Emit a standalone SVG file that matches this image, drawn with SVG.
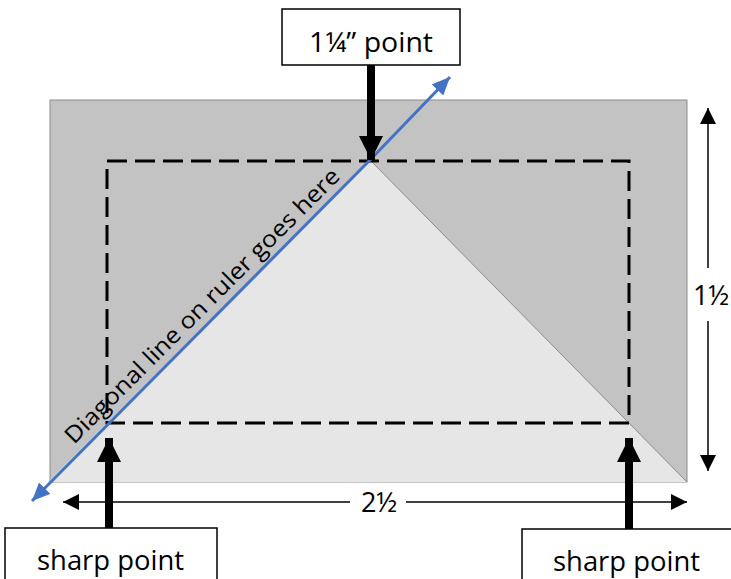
<svg xmlns="http://www.w3.org/2000/svg" width="731" height="579" viewBox="0 0 731 579">
<style>
.lbl{font-family:"Open Sans","Noto Sans",sans-serif;font-size:27px;fill:#000}
.box{fill:#fff;stroke:#000;stroke-width:1.5}
.dim{stroke:#000;stroke-width:1.5;fill:none}
.big{stroke:#000;stroke-width:8;fill:none}
</style>
<defs>
<marker id="ah" markerUnits="userSpaceOnUse" markerWidth="18" markerHeight="16" refX="16" refY="8" orient="auto">
<path d="M0,0 L16,8 L0,16 Z" fill="#000"/>
</marker>
<marker id="bh" markerUnits="userSpaceOnUse" markerWidth="26" markerHeight="26" refX="24" refY="12" orient="auto">
<path d="M0,0 L24,12 L0,24 Z" fill="#000"/>
</marker>
<marker id="blh" markerUnits="userSpaceOnUse" markerWidth="20" markerHeight="16" refX="18" refY="8" orient="auto">
<path d="M0,0 L18,8 L0,16 Z" fill="#4472c4"/>
</marker>
</defs>
<g id="fabric">
<rect x="50" y="100" width="637" height="382" fill="#c3c3c3" stroke="#8c8c8c" stroke-width="1"/>
<polygon points="370,160 50,480 50,482 687,482" fill="#e6e6e6"/>
<line x1="370" y1="160" x2="687" y2="482" stroke="#8c8c8c" stroke-width="1"/>
<rect x="107" y="161" width="522" height="262" fill="none" stroke="#000" stroke-width="3" stroke-dasharray="20 8"/>
</g>
<g id="connectors">
<line x1="370" y1="160" x2="450" y2="77" stroke="#4472c4" stroke-width="3" marker-end="url(#blh)"/>
<line x1="370" y1="160" x2="32" y2="501" stroke="#4472c4" stroke-width="3" marker-end="url(#blh)"/>
<line class="big" x1="371" y1="65" x2="371" y2="160" marker-end="url(#bh)"/>
<line class="big" x1="109" y1="528" x2="109" y2="438" marker-end="url(#bh)"/>
<line class="big" x1="629" y1="529" x2="629" y2="438" marker-end="url(#bh)"/>
<line class="dim" x1="350" y1="502" x2="63" y2="502" marker-end="url(#ah)"/>
<line class="dim" x1="406" y1="502" x2="687" y2="502" marker-end="url(#ah)"/>
<line class="dim" x1="708" y1="268" x2="708" y2="108" marker-end="url(#ah)"/>
<line class="dim" x1="708" y1="321" x2="708" y2="471" marker-end="url(#ah)"/>
</g>
<g id="diag-label">
<text class="lbl" style="font-size:23px" transform="translate(74,445) rotate(-45)" textLength="378" lengthAdjust="spacingAndGlyphs">Diagonal line on ruler goes here</text>
</g>
<g id="top-point">
<rect class="box" x="282" y="9" width="178" height="56"/>
<text class="lbl" x="371" y="52" text-anchor="middle" textLength="124" lengthAdjust="spacingAndGlyphs">1¼” point</text>
</g>
<g id="sharp-left">
<rect class="box" x="5" y="528" width="212" height="60"/>
<text class="lbl" x="37" y="570" textLength="147" lengthAdjust="spacingAndGlyphs">sharp point</text>
</g>
<g id="sharp-right">
<rect class="box" x="522" y="529" width="220" height="60"/>
<text class="lbl" x="553" y="571" textLength="147" lengthAdjust="spacingAndGlyphs">sharp point</text>
</g>
<g id="width-label">
<text class="lbl" x="379" y="512" text-anchor="middle">2½</text>
</g>
<g id="height-label">
<text class="lbl" x="711" y="305" text-anchor="middle">1½</text>
</g>
</svg>
